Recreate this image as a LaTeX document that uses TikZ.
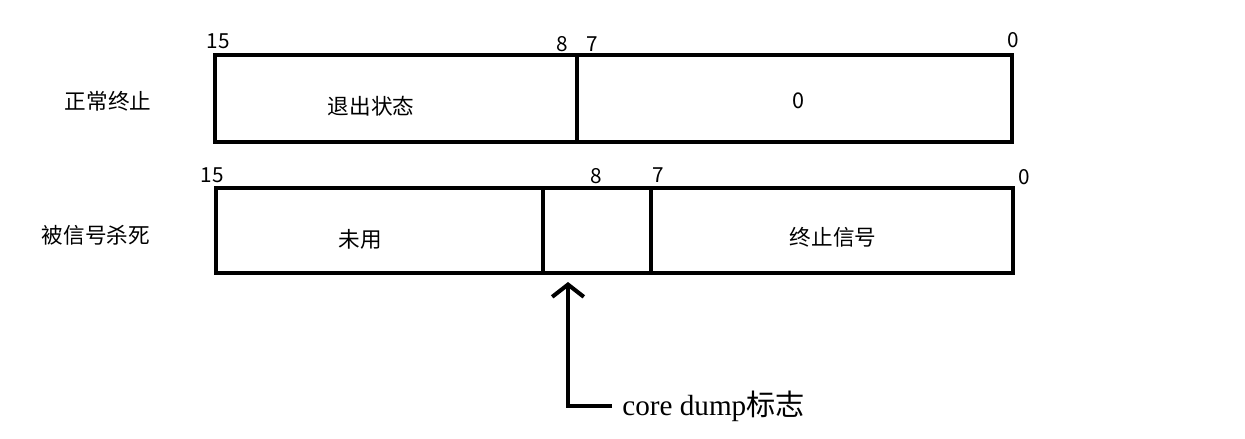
\documentclass[tikz,border=0pt]{standalone}
\usepackage{fontspec}
\setmainfont{Noto Sans CJK SC}
\newfontfamily\cdfont{Liberation Serif}
\usetikzlibrary{arrows.meta,positioning}

\begin{document}
\begin{tikzpicture}[x=0.02cm,y=-0.02cm,
  field/.style={draw,line width=1.9pt,inner sep=0pt,outer sep=0pt,anchor=north west},
  fieldtext/.style={font=\fontsize{12.3}{14}\selectfont,inner sep=0pt},
  bit/.style={font=\fontsize{11.8}{13}\selectfont,inner sep=0pt},
  rowlabel/.style={font=\fontsize{12.3}{14}\selectfont,inner sep=0pt}]
\useasboundingbox (0,0) rectangle (1245,439);

% ---------------- row 1: normal exit
\node[rowlabel] (normal) at (108,101) {正常终止};
\node[field,minimum width=7.24cm,minimum height=1.74cm] (status) at (215,55) {};
\node[field,minimum width=8.70cm,minimum height=1.74cm] (low) at (577,55) {};
\node[fieldtext] (statustxt) at (371,106) {退出状态};
\node[fieldtext] (lowtxt) at (798,101) {0};
\node[bit] (na15) at (218,41) {15};
\node[bit] (na8)  at (562,44) {8};
\node[bit] (na7)  at (592,44) {7};
\node[bit] (na0)  at (1013,40) {0};

% ---------------- row 2: killed by a signal
\node[rowlabel] (killed) at (96,235) {被信号杀死};
\node[field,minimum width=6.54cm,minimum height=1.70cm] (unused) at (216,188) {};
\node[field,minimum width=2.16cm,minimum height=1.70cm] (flag) at (543,188) {};
\node[field,minimum width=7.24cm,minimum height=1.70cm] (sig) at (651,188) {};
\node[fieldtext] (unusedtxt) at (360,239) {未用};
\node[fieldtext] (sigtxt) at (833,237) {终止信号};
\node[bit] (kb15) at (212,175) {15};
\node[bit] (kb8)  at (596,176) {8};
\node[bit] (kb7)  at (658,175) {7};
\node[bit] (kb0)  at (1024,177) {0};

% ---------------- core dump pointer
\coordinate (tip) at (568,282);
\node[font=\fontsize{16.6}{18}\selectfont,anchor=west,inner xsep=0.2cm,inner ysep=0pt] (cd)
  at (612,406) {{\cdfont core dump}标志};
\draw[-{Straight Barb[length=7pt,width=18pt]},line width=2.3pt] (cd.west) -| (tip);
\end{tikzpicture}
\end{document}
